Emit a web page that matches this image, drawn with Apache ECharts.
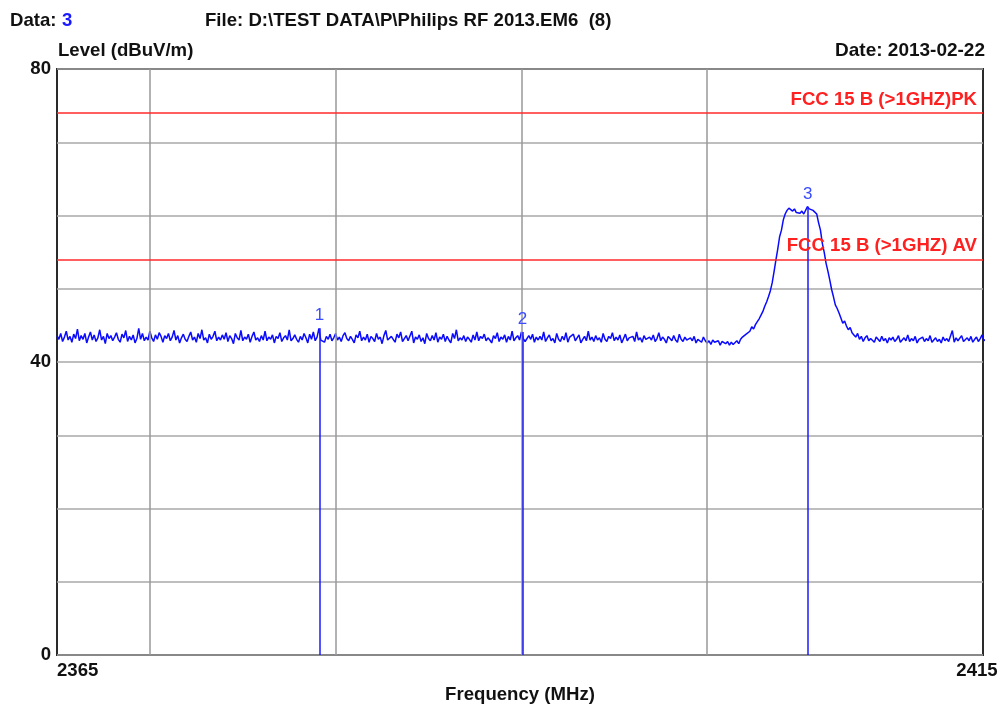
<!DOCTYPE html>
<html>
<head>
<meta charset="utf-8">
<script src="https://cdn.jsdelivr.net/npm/echarts@6/dist/echarts.min.js"></script>
<style>
html,body{margin:0;padding:0;background:#fff;}
#c{width:1002px;height:706px;}
</style>
</head>
<body>
<div id="c"></div>
<script>
// ---- data ----
const sweepStartMHz = 2365;
const sweepStepMHz = 0.1;
// level (dBuV/m), one row per MHz, 0.1 MHz apart
const levelRows = [
[43.6,43.1,43.9,42.8,43.4,44.2,43.0,43.5,42.7,43.8], // 2365
[43.2,44.5,42.9,43.6,43.1,43.9,42.6,43.4,44.1,43.0],
[43.7,42.8,43.3,44.4,43.0,43.5,42.5,43.9,43.2,43.6],
[42.9,43.4,44.0,43.1,42.7,43.8,43.3,44.3,42.8,43.5],
[43.0,43.7,42.6,43.2,44.6,43.1,43.9,42.9,43.4,43.0],
[44.2,43.3,42.8,43.7,43.1,44.0,43.5,42.7,43.6,43.2], // 2370
[43.9,42.9,43.4,44.3,43.0,43.6,42.6,43.3,43.8,43.1],
[42.8,43.5,44.1,43.0,43.4,42.7,43.9,43.2,44.4,43.0],
[43.3,42.6,43.8,43.1,43.5,44.2,42.9,43.4,43.0,43.7],
[43.1,44.0,42.8,43.6,43.2,42.5,43.9,43.3,43.0,44.3],
[42.9,43.4,43.1,43.8,42.7,43.5,44.1,43.0,43.3,42.8], // 2375
[43.6,43.0,44.2,42.9,43.4,43.1,43.7,42.6,43.5,43.2],
[44.0,42.8,43.3,43.6,43.0,44.4,42.9,43.2,43.7,43.1],
[42.7,43.5,43.0,43.9,43.3,42.6,43.8,43.1,44.1,42.9],
[43.4,44.6,43.0,43.2,42.7,43.5,43.1,43.8,42.9,43.3],
[43.9,43.0,43.4,42.8,43.6,44.0,43.2,42.9,43.5,43.1], // 2380
[42.6,43.7,43.3,44.2,42.9,43.4,43.0,43.8,42.7,43.5],
[43.2,42.8,43.9,43.1,43.4,42.5,43.6,44.3,43.0,42.9],
[43.5,43.1,42.7,43.8,43.3,44.1,42.8,43.2,43.6,42.9],
[43.0,44.2,42.6,43.4,43.1,43.7,42.8,43.3,42.5,43.9],
[43.2,42.9,43.6,43.0,44.0,42.7,43.4,43.1,43.8,42.8], // 2385
[43.5,43.0,42.6,43.9,43.2,44.4,42.9,43.3,43.0,43.6],
[42.8,43.4,43.1,42.7,43.7,43.0,44.1,42.9,43.5,43.2],
[43.8,42.9,43.3,43.0,42.6,43.6,43.2,44.0,42.8,43.4],
[43.1,43.7,42.7,43.5,43.0,44.2,42.9,43.3,43.6,43.0],
[44.1,43.2,42.8,42.9,43.6,43.1,43.8,42.7,43.4,43.0], // 2390
[43.5,43.0,44.1,42.8,43.3,43.7,42.9,43.2,42.6,43.9],
[43.1,42.8,43.5,43.0,44.0,42.7,43.4,43.2,43.8,42.9],
[43.3,43.7,42.6,43.1,43.5,42.9,44.2,43.0,43.4,42.8],
[43.6,43.0,43.3,42.7,43.9,43.1,42.8,43.5,43.2,44.0],
[42.9,43.4,43.0,43.7,42.6,43.2,43.8,42.9,43.3,43.1], // 2395
[43.5,42.8,44.1,43.0,43.3,42.7,43.6,43.1,42.9,43.4],
[43.0,43.7,42.8,43.2,44.0,42.9,43.4,43.1,42.6,43.5],
[43.2,42.9,43.6,43.0,42.7,43.8,43.1,42.8,43.4,43.0],
[42.8,43.3,42.9,43.5,42.6,43.1,43.0,42.7,43.4,42.9],
[42.6,42.9,42.4,43.0,42.7,42.5,42.9,42.3,42.8,42.6], // 2400
[42.5,42.8,42.3,42.7,42.4,42.2,42.9,42.5,43.1,43.4],
[43.3,43.8,43.6,44.2,44.8,44.5,45.1,45.5,45.9,46.4],
[46.9,47.6,48.2,48.9,49.7,50.8,52.3,53.9,55.4,57.1],
[58.0,59.4,60.2,60.7,61.0,60.8,60.6,60.9,60.4,60.5],
[60.3,60.6,60.2,60.4,61.2,60.9,61.0,60.7,60.5,60.2], // 2405
[59.0,58.0,56.2,55.0,53.5,52.4,51.2,49.9,48.9,47.8],
[47.3,46.7,46.0,45.3,45.6,44.9,44.4,44.7,44.0,43.7],
[43.4,43.9,43.1,43.5,42.8,43.3,43.6,42.9,43.2,43.0],
[42.7,43.4,43.1,42.8,43.5,42.9,43.2,42.6,43.3,43.0],
[43.4,42.8,43.1,43.6,42.7,43.0,43.3,42.9,43.7,42.8], // 2410
[43.2,42.9,43.5,42.6,43.1,43.0,43.4,42.8,43.2,42.9],
[43.6,42.7,43.0,43.3,42.8,43.1,42.6,43.4,42.9,43.2],
[42.8,43.0,44.3,42.7,43.3,42.9,43.1,43.6,42.8,43.0],
[43.3,42.9,43.5,42.7,43.1,43.4,42.8,43.2,43.7,42.9],
[43.1] // 2415
];
const xRange = [2365, 2414.85];          // visible span of the plot frame
const xTickLabels = ['2365', '2415'];     // labels printed at the two ends
const yLabelValues = [0, 40, 80];
const limitNames = ['FCC 15 B (>1GHZ)PK', 'FCC 15 B (>1GHZ) AV'];
const limitLevels = [74, 54];
const markerIds = ['1', '2', '3'];
const markerFreqs = [2379.13, 2390.06, 2405.42];
const markerLevels = [44.6, 44.1, 61.2];
const gridFreqs = [2370, 2380, 2390, 2400];
const headerData = 'Data:';
const headerDataNo = '3';
const headerFile = 'File: D:\\TEST DATA\\P\\Philips RF 2013.EM6  (8)';
const headerDate = 'Date: 2013-02-22';
const yTitle = 'Level (dBuV/m)';
const xTitle = 'Frequency (MHz)';

// ---- build ----
const level = levelRows.flat();
const trace = level.map((v, i) => [+(sweepStartMHz + i * sweepStepMHz).toFixed(1), v]);

const FONT = '"Liberation Sans", Arial, sans-serif';
const FS = 18.6;
const chart = echarts.init(document.getElementById('c'), null, {renderer: 'canvas'});

const option = {
  animation: false,
  backgroundColor: '#fff',
  grid: {left: 57, right: 19, top: 69, bottom: 51, show: true, borderColor: '#2a2a2a', borderWidth: 2,
         backgroundColor: 'transparent', containLabel: false, outerBoundsMode: 'none'},
  xAxis: {
    type: 'value', min: xRange[0], max: xRange[1],
    axisLine: {show: false}, axisTick: {show: false}, splitLine: {show: false},
    axisLabel: {
      margin: 6, color: '#111', fontFamily: FONT, fontWeight: 'bold', fontSize: FS,
      showMinLabel: true, showMaxLabel: true,
      alignMinLabel: 'left', alignMaxLabel: 'center',
      customValues: xRange,
      formatter: v => v === xRange[0] ? xTickLabels[0] : (v === xRange[1] ? '{b|' + xTickLabels[1] + '}' : ''),
      rich: {b: {fontFamily: FONT, fontWeight: 'bold', fontSize: FS, color: '#111', padding: [0, 12, 0, 0]}}
    },
    name: xTitle, nameLocation: 'middle', nameGap: 29,
    nameTextStyle: {color: '#111', fontFamily: FONT, fontWeight: 'bold', fontSize: FS}
  },
  yAxis: {
    type: 'value', min: 0, max: 80, interval: 10,
    axisLine: {show: false}, axisTick: {show: false},
    splitLine: {show: true, lineStyle: {color: '#a9a9a9', width: 1.5}},
    axisLabel: {
      margin: 6, color: '#111', fontFamily: FONT, fontWeight: 'bold', fontSize: FS,
      formatter: v => yLabelValues.includes(v) ? String(v) : ''
    }
  },
  graphic: [
    {type: 'text', x: 10, y: 21, style: {text: headerData, fill: '#111', font: 'bold ' + FS + 'px ' + FONT, verticalAlign: 'middle', align: 'left'}},
    {type: 'text', x: 62, y: 21, style: {text: headerDataNo, fill: '#1a1aff', font: 'bold ' + FS + 'px ' + FONT, verticalAlign: 'middle', align: 'left'}},
    {type: 'text', x: 205, y: 21, style: {text: headerFile, fill: '#111', font: 'bold ' + FS + 'px ' + FONT, verticalAlign: 'middle', align: 'left'}},
    {type: 'text', x: 58, y: 51, style: {text: yTitle, fill: '#111', font: 'bold ' + FS + 'px ' + FONT, verticalAlign: 'middle', align: 'left'}},
    {type: 'text', x: 985, y: 51, style: {text: headerDate, fill: '#111', font: 'bold 19px ' + FONT, verticalAlign: 'middle', align: 'right'}}
  ],
  series: [
    {
      name: 'grid-v', type: 'line', data: [], z: 1, silent: true,
      markLine: {
        silent: true, symbol: ['none', 'none'], animation: false,
        label: {show: false},
        lineStyle: {color: '#999', width: 1.5, type: 'solid'},
        data: gridFreqs.map(f => ({xAxis: f}))
      }
    },
    {
      name: 'limits', type: 'line', data: [], z: 2, silent: true,
      markLine: {
        silent: true, symbol: ['none', 'none'], animation: false,
        lineStyle: {color: '#ff2a2a', width: 1.5, type: 'solid'},
        label: {show: true, position: 'insideEndTop', distance: [6, 4], color: '#ff2020', fontFamily: FONT, fontWeight: 'bold', fontSize: FS},
        data: limitLevels.map((v, i) => ({yAxis: v, label: {formatter: limitNames[i]}}))
      }
    },
    {
      name: 'trace', type: 'line', data: trace, z: 3, showSymbol: false, symbol: 'none', silent: true,
      lineStyle: {color: '#0a0aff', width: 1.5}, sampling: false,
      markLine: {
        silent: true, symbol: ['none', 'none'], animation: false,
        lineStyle: {color: '#1a1aff', width: 1.5, type: 'solid'},
        label: {show: true, position: 'end', distance: 4, color: '#3a4cff', fontFamily: FONT, fontSize: 17},
        data: markerFreqs.map((f, i) => [
          {coord: [f, 0]},
          {coord: [f, markerLevels[i]], label: {formatter: markerIds[i]}}
        ])
      }
    }
  ]
};
chart.setOption(option);
</script>
</body>
</html>
